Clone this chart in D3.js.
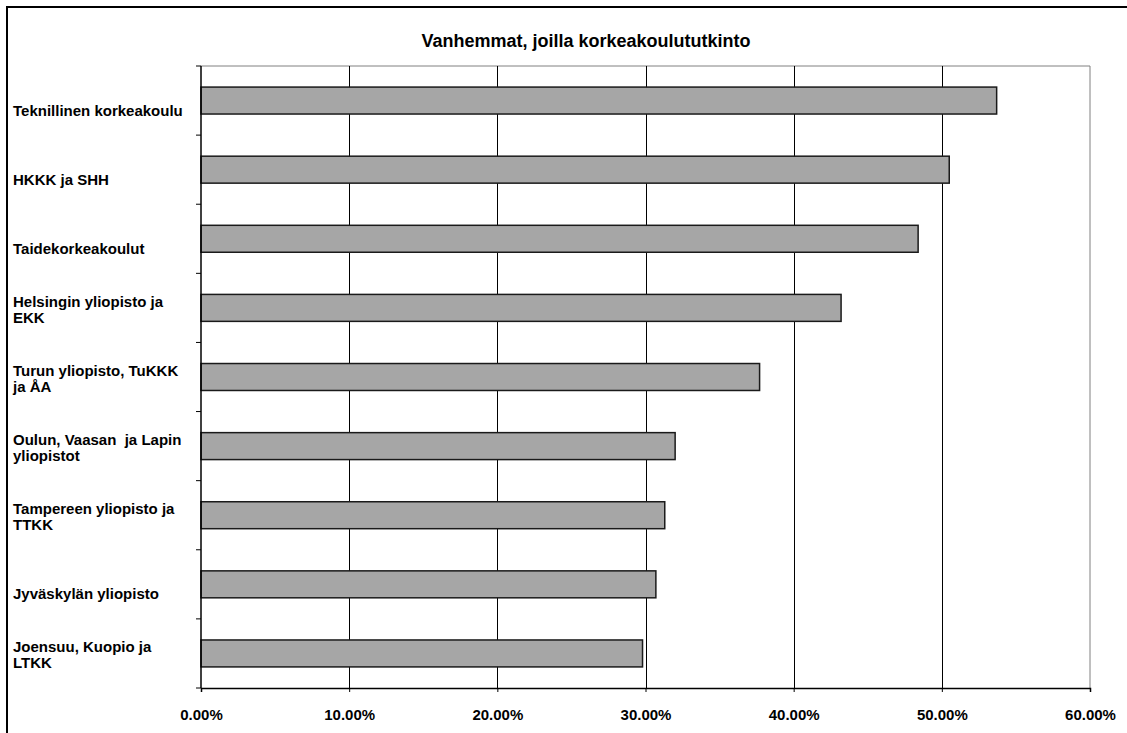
<!DOCTYPE html>
<html><head><meta charset="utf-8">
<script src="https://cdn.jsdelivr.net/npm/d3@7"></script>
<style>body{margin:0;background:#fff}svg{display:block}text{font-family:"Liberation Sans",Arial,sans-serif;font-weight:bold;fill:#000}</style>
</head><body><svg id="c" width="1127" height="733"></svg>
<script>
const categories = [
  ["Teknillinen korkeakoulu"],
  ["HKKK ja SHH"],
  ["Taidekorkeakoulut"],
  ["Helsingin yliopisto ja", "EKK"],
  ["Turun yliopisto, TuKKK", "ja ÅA"],
  ["Oulun, Vaasan  ja Lapin", "yliopistot"],
  ["Tampereen yliopisto ja", "TTKK"],
  ["Jyväskylän yliopisto"],
  ["Joensuu, Kuopio ja", "LTKK"]
];
const values = [0.537, 0.505, 0.484, 0.432, 0.377, 0.320, 0.313, 0.307, 0.298];
const xTicks = [0, 0.1, 0.2, 0.3, 0.4, 0.5, 0.6];
const title = "Vanhemmat, joilla korkeakoulututkinto";

const svg = d3.select("#c");
const L = 201, R = 1090, T = 66, B = 688;
const x = d3.scaleLinear().domain([0, 0.6]).range([L, R]);
const y = d3.scaleBand().domain(d3.range(categories.length)).range([T, B]).paddingInner(0.61).paddingOuter(0.305);
const yb = d3.scaleBand().domain(d3.range(categories.length)).range([T, B]);

// outer chart border
svg.append("rect").attr("x", 7).attr("y", 7).attr("width", 1200).attr("height", 800)
  .attr("fill", "none").attr("stroke", "#000").attr("stroke-width", 2);

// title
svg.append("text").attr("x", 586).attr("y", 47).attr("text-anchor", "middle")
  .style("font-size", "18px").text(title);

// plot frame top/right
svg.append("line").attr("x1", L).attr("x2", R).attr("y1", T).attr("y2", T).attr("stroke", "#808080");
svg.append("line").attr("x1", R).attr("x2", R).attr("y1", T).attr("y2", B).attr("stroke", "#808080");

// gridlines
svg.append("g").selectAll("line").data(xTicks.filter(d => d > 0 && d < 0.6)).join("line")
  .attr("x1", d => Math.round(x(d)) + 0.5).attr("x2", d => Math.round(x(d)) + 0.5)
  .attr("y1", T).attr("y2", B).attr("stroke", "#000").attr("stroke-width", 1);

// bars
svg.append("g").selectAll("rect").data(values).join("rect")
  .attr("x", x(0)).attr("y", (d, i) => y(i))
  .attr("width", d => x(d) - x(0)).attr("height", y.bandwidth())
  .attr("fill", "#a6a6a6").attr("stroke", "#1a1a1a").attr("stroke-width", 1.5);

// x axis
const xAxis = d3.axisBottom(x).tickValues(xTicks).tickFormat(d3.format(".2%")).tickSize(4).tickPadding(17);
const gx = svg.append("g").attr("transform", `translate(0,${B})`).call(xAxis);
gx.select(".domain").attr("stroke", "#000").attr("stroke-width", 1.5);
gx.selectAll(".tick line").attr("stroke", "#000");
gx.selectAll("text").style("font-size", "15px").style("font-family", '"Liberation Sans",Arial,sans-serif').style("font-weight", "bold").attr("fill", "#000");

// y axis line + ticks at band boundaries
svg.append("line").attr("x1", L).attr("x2", L).attr("y1", T).attr("y2", B).attr("stroke", "#000").attr("stroke-width", 1.5);
svg.append("g").selectAll("line").data(d3.range(categories.length + 1)).join("line")
  .attr("x1", L - 5).attr("x2", L).attr("y1", i => (i < categories.length ? yb(i) : B))
  .attr("y2", i => (i < categories.length ? yb(i) : B)).attr("stroke", "#000");

// category labels
const lg = svg.append("g");
categories.forEach((lines, i) => {
  const c = yb(i) + yb.bandwidth() / 2;
  const t = lg.append("text").attr("x", 13).style("font-size", "15px").attr("xml:space", "preserve");
  lines.forEach((ln, j) => {
    const k = lines.length - 1 - j;
    t.append("tspan").attr("x", 13).attr("y", c + 15 - k * 16).text(ln);
  });
});
</script></body></html>
